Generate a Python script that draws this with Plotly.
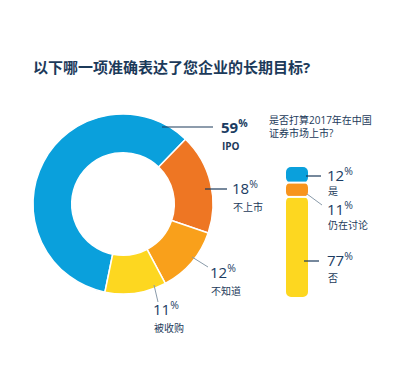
import plotly.graph_objects as go

# ---------------- data ----------------
pie_labels = ["IPO", "不上市", "不知道", "被收购"]
pie_values = [59, 18, 12, 11]
pie_colors = ["#0AA0DC", "#EE7623", "#F9A01B", "#FDD720"]

bar_labels = ["是", "仍在讨论", "否"]          # top to bottom
bar_values = [12, 11, 77]
bar_colors = ["#0AA0DC", "#F7941D", "#FDD720"]

title_text = "以下哪一项准确表达了您企业的长期目标?"
question_text = "是否打算2017年在中国<br>证券市场上市?"

W, H = 420, 380
OFF = 8  # page body margin
NAVY = "#1C3A5A"
NUM = "#1B3C62"
FONT = "Open Sans, Noto Sans CJK SC, sans-serif"


def px(x):
    return (x - OFF) / W


def py(y):
    return 1 - (y - OFF) / H


fig = go.Figure()

# ---------------- donut ----------------
fig.add_trace(go.Pie(
    labels=pie_labels, values=pie_values, sort=False, direction="clockwise",
    rotation=191.6, hole=0.57, textinfo="none", hoverinfo="label+percent",
    marker=dict(colors=pie_colors, line=dict(color="white", width=1.5)),
    domain=dict(x=[px(33), px(213)], y=[py(294), py(114)]),
    showlegend=False,
))

# ---------------- rounded stacked bar ----------------
total = sum(bar_values)
tops, bases = [], []
cur = total
for v in bar_values:
    tops.append(cur)
    bases.append(cur - v)
    cur -= v

fig.add_trace(go.Bar(
    x=[0] * len(bar_values), y=bar_values, base=bases, width=1,
    marker=dict(color=bar_colors, cornerradius=5, line=dict(width=0)),
    xaxis="x", yaxis="y", showlegend=False, hoverinfo="skip",
))
# white gaps between segments
for b in tops[1:]:
    fig.add_trace(go.Scatter(
        x=[-0.6, 0.6], y=[b, b], mode="lines",
        line=dict(color="white", width=2),
        xaxis="x", yaxis="y", showlegend=False, hoverinfo="skip",
    ))

fig.update_layout(
    width=W, height=H,
    margin=dict(l=0, r=0, t=0, b=0),
    paper_bgcolor="white", plot_bgcolor="rgba(0,0,0,0)",
    barmode="overlay",
    font=dict(family=FONT, color=NAVY),
    xaxis=dict(domain=[px(286), px(308)], range=[-0.5, 0.5], visible=False, fixedrange=True),
    yaxis=dict(domain=[py(297), py(167)], range=[0, total], visible=False, fixedrange=True),
)

annotations = []
shapes = []


def text(x, y, t, size, bold=False, anchor="left", color=NAVY):
    annotations.append(dict(
        x=px(x), y=py(y), xref="paper", yref="paper", text=(f"<b>{t}</b>" if bold else t),
        showarrow=False, xanchor=anchor, yanchor="middle",
        font=dict(size=size, color=color, family=FONT),
    ))


def line(x0, y0, x1, y1, color=NAVY, width=1.2):
    shapes.append(dict(type="line", xref="paper", yref="paper",
                       x0=px(x0), y0=py(y0), x1=px(x1), y1=py(y1),
                       line=dict(color=color, width=width)))


def pct(v):
    return f"{v}<sup>%</sup>"


# title
text(31, 67, title_text, 15, bold=True)

# donut labels
line(162, 127, 213, 127)
text(219, 126, f"<b>{pie_values[0]}</b><sup><b>%</b></sup>", 15, color=NUM)
text(220, 146, pie_labels[0], 10, bold=True)

line(205, 189, 227, 189)
text(230, 187, pct(pie_values[1]), 15, color=NUM)
text(231, 207, pie_labels[1], 10)

line(192, 257, 208, 267, color="#8A9BAA", width=1)
text(208, 271, pct(pie_values[2]), 15, color=NUM)
text(209, 291, pie_labels[2], 10)

line(154, 285, 158, 302, color="#8A9BAA", width=1)
text(151, 308, pct(pie_values[3]), 15, color=NUM)
text(152, 328, pie_labels[3], 10)

# bar question
annotations.append(dict(
    x=px(267), y=py(111), xref="paper", yref="paper", text=question_text,
    showarrow=False, xanchor="left", yanchor="top", align="left",
    font=dict(size=10, color=NAVY, family=FONT),
))

# bar labels
line(306, 176, 321, 176)
text(325, 174, pct(bar_values[0]), 15, color=NUM)
text(326, 191, bar_labels[0], 10)

line(307, 194, 322, 205, color="#8A9BAA", width=1)
text(325, 208, pct(bar_values[1]), 15, color=NUM)
text(326, 225, bar_labels[1], 10)

line(304, 261, 319, 261)
text(325, 260, pct(bar_values[2]), 15, color=NUM)
text(326, 278, bar_labels[2], 10)

fig.update_layout(annotations=annotations, shapes=shapes)

fig.write_html("out.html")
